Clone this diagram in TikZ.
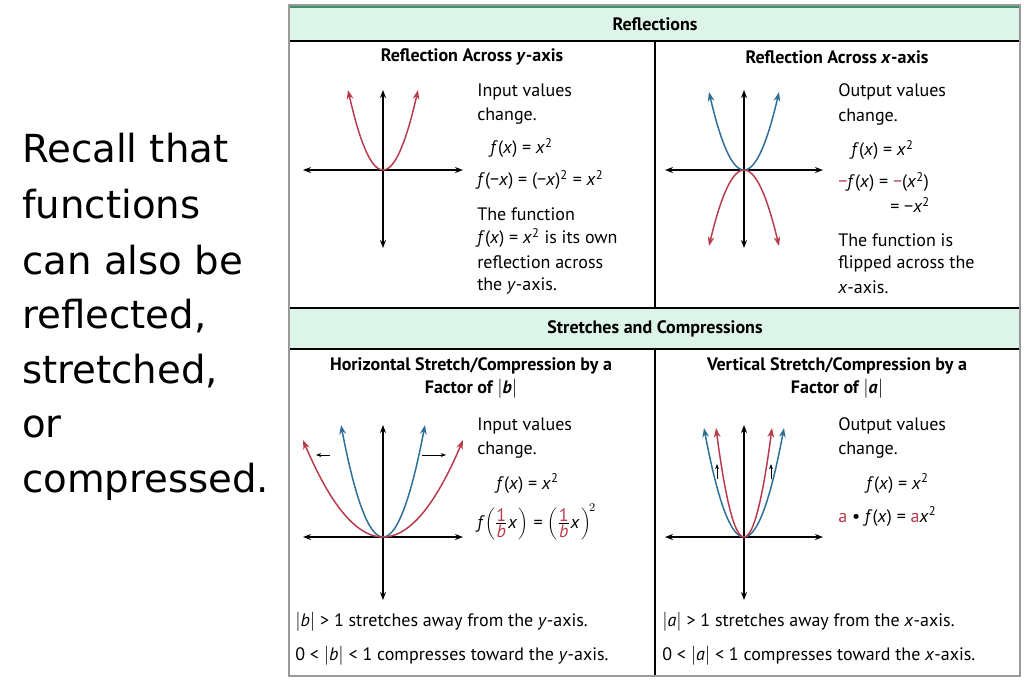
\documentclass[tikz,border=0pt]{standalone}
\usepackage{fontspec}
\setmainfont{PT Sans}
\newfontfamily\bigfont{DejaVu Sans}
\usetikzlibrary{arrows.meta}
\definecolor{hdr}{HTML}{DDF5E8}
\definecolor{hdrtop}{HTML}{3F8F6A}
\definecolor{cred}{HTML}{B83A4B}
\definecolor{cblue}{HTML}{2C6E97}
\definecolor{frame}{HTML}{9A9A9A}
\tikzset{
  ax/.style={line width=1pt,{Stealth[length=6pt,width=4.5pt]}-{Stealth[length=6pt,width=4.5pt]}},
  cur/.style={line width=1.1pt,{Stealth[length=7pt,width=5pt]}-{Stealth[length=7pt,width=5pt]}},
  small/.style={line width=0.6pt,-{Stealth[length=4pt,width=3pt]}},
  txt/.style={anchor=west,inner sep=0pt,font=\fontsize{13.5}{15}\selectfont},
  hd/.style={anchor=center,inner sep=0pt,font=\fontsize{13.5}{17}\selectfont\bfseries,align=center},
  big/.style={anchor=west,inner sep=0pt,font=\bigfont\fontsize{29}{32}\selectfont},
}
\newcommand{\ii}[1]{\textit{#1}}
\newcommand{\rfrac}{\frac{\mbox{\textcolor{cred}{1}}}{\mbox{\textcolor{cred}{\textit{b}}}}}
\begin{document}
\begin{tikzpicture}[x=0.75pt,y=-0.75pt]
\useasboundingbox (0,0) rectangle (1024,679);
\fill[white] (0,0) rectangle (1024,679);
% left text
\node[big] (l1) at (22,148) {Recall that};
\node[big] (l2) at (22,204) {functions};
\node[big] (l3) at (22,260) {can also be};
\node[big] (l4) at (22,316) {reflected,};
\node[big] (l5) at (22,371) {stretched,};
\node[big] (l6) at (22,427) {or};
\node[big] (l7) at (22,482) {compressed.};
% table
\fill[hdr] (289,7) rectangle (1020,41);
\fill[hdr] (289,309) rectangle (1020,349);
\draw[hdrtop,line width=3pt] (289,6) -- (1020,6);
\draw[black,line width=1.8pt] (289,41) -- (1020,41);
\draw[black,line width=1.8pt] (289,308) -- (1020,308);
\draw[black,line width=1.8pt] (289,349) -- (1020,349);
\draw[black,line width=1.5pt] (655,41) -- (655,308);
\draw[black,line width=1.5pt] (655,349) -- (655,676);
\draw[frame,line width=1.8pt] (289,5) rectangle (1020,676);
\node[hd] (h1) at (655,24) {Reflections};
\node[hd] (h2) at (655,329) {Stretches and Compressions};
\node[hd] (p1) at (472,57) {Reflection Across \ii{y}-axis};
\node[hd] (p2) at (837,57) {Reflection Across \ii{x}-axis};
\node[hd] (p3) at (471,378) {Horizontal Stretch/Compression by a\\Factor of $|$\ii{b}$|$};
\node[hd] (p4) at (837,378) {Vertical Stretch/Compression by a\\Factor of $|$\ii{a}$|$};
% panel 1
\draw[ax] (303,170) -- (463,170);
\draw[ax] (383,90) -- (383,248);
\draw[cur,cred] plot[domain=-35:35,samples=40] ({383+\x},{170-80*(\x/35)^2});
\node[txt] (t11) at (477,92) {Input values};
\node[txt] (t12) at (477,116) {change.};
\node[txt] (t13) at (490,148) {\ii{f}(\ii{x}) = \ii{x}\textsuperscript{2}};
\node[txt] (t14) at (477,180) {\ii{f}(−\ii{x}) = (−\ii{x})\textsuperscript{2} = \ii{x}\textsuperscript{2}};
\node[txt] (t15) at (477,214) {The function};
\node[txt] (t16) at (477,238) {\ii{f}(\ii{x}) = \ii{x}\textsuperscript{2} is its own};
\node[txt] (t17) at (477,262) {reflection across};
\node[txt] (t18) at (477,286) {the \ii{y}-axis.};
% panel 2
\draw[ax] (665,170) -- (823,170);
\draw[ax] (744,90) -- (744,248);
\draw[cur,cblue] plot[domain=-35:35,samples=40] ({744+\x},{170-78*(\x/35)^2});
\draw[cur,cred] plot[domain=-35:35,samples=40] ({744+\x},{170+76*(\x/35)^2});
\node[txt] (t21) at (838,92) {Output values};
\node[txt] (t22) at (838,117) {change.};
\node[txt] (t23) at (851,150) {\ii{f}(\ii{x}) = \ii{x}\textsuperscript{2}};
\node[txt] (t24) at (838,182) {\textcolor{cred}{−}\ii{f}(\ii{x}) = \textcolor{cred}{−}(\ii{x}\textsuperscript{2})};
\node[txt] (t25) at (890,205) {= −\ii{x}\textsuperscript{2}};
\node[txt] (t26) at (838,240) {The function is};
\node[txt] (t27) at (838,264) {flipped across the};
\node[txt] (t28) at (838,287) {\ii{x}-axis.};
% panel 3
\draw[ax] (303,537) -- (463,537);
\draw[ax] (383,425) -- (383,600);
\draw[cur,cblue] plot[domain=-42:42,samples=40] ({383+\x},{537-112*(\x/42)^2});
\draw[cur,cred] plot[domain=-80:80,samples=60] ({383+\x},{537-97*(\x/80)^2});
\coordinate (a1s) at (330,455); \coordinate (a1e) at (316,455);
\coordinate (a2s) at (422,455); \coordinate (a2e) at (446,455);
\draw[small] (a1s) -- (a1e);
\draw[small] (a2s) -- (a2e);
\node[txt] (t31) at (477,426) {Input values};
\node[txt] (t32) at (477,450) {change.};
\node[txt] (t33) at (496,483) {\ii{f}(\ii{x}) = \ii{x}\textsuperscript{2}};
\node[txt] (t34) at (477,522) {\ii{f}$\left(\rfrac\right.$\hspace{-1pt}\ii{x}$\left.\vphantom{\rfrac}\right)$ = $\left(\rfrac\right.$\hspace{-1pt}\ii{x}$\left.\vphantom{\rfrac}\right)^{\!2}$};
\node[txt] (t35) at (295,622) {$|$\ii{b}$|$ > 1 stretches away from the \ii{y}-axis.};
\node[txt] (t36) at (295,656) {0 < $|$\ii{b}$|$ < 1 compresses toward the \ii{y}-axis.};
% panel 4
\draw[ax] (665,537) -- (823,537);
\draw[ax] (744,425) -- (744,600);
\draw[cur,cblue] plot[domain=-40:40,samples=40] ({744+\x},{537-109*(\x/40)^2});
\draw[cur,cred] plot[domain=-28:28,samples=40] ({744+\x},{537-109*(\x/28)^2});
\coordinate (b1s) at (717,479); \coordinate (b1e) at (717,464);
\coordinate (b2s) at (771,479); \coordinate (b2e) at (771,464);
\draw[small] (b1s) -- (b1e);
\draw[small] (b2s) -- (b2e);
\node[txt] (t41) at (838,426) {Output values};
\node[txt] (t42) at (838,450) {change.};
\node[txt] (t43) at (866,483) {\ii{f}(\ii{x}) = \ii{x}\textsuperscript{2}};
\node[txt] (t44) at (838,516) {\textcolor{cred}{a} • \ii{f}(\ii{x}) = \textcolor{cred}{a}\ii{x}\textsuperscript{2}};
\node[txt] (t45) at (662,622) {$|$\ii{a}$|$ > 1 stretches away from the \ii{x}-axis.};
\node[txt] (t46) at (662,656) {0 < $|$\ii{a}$|$ < 1 compresses toward the \ii{x}-axis.};
\end{tikzpicture}
\end{document}
